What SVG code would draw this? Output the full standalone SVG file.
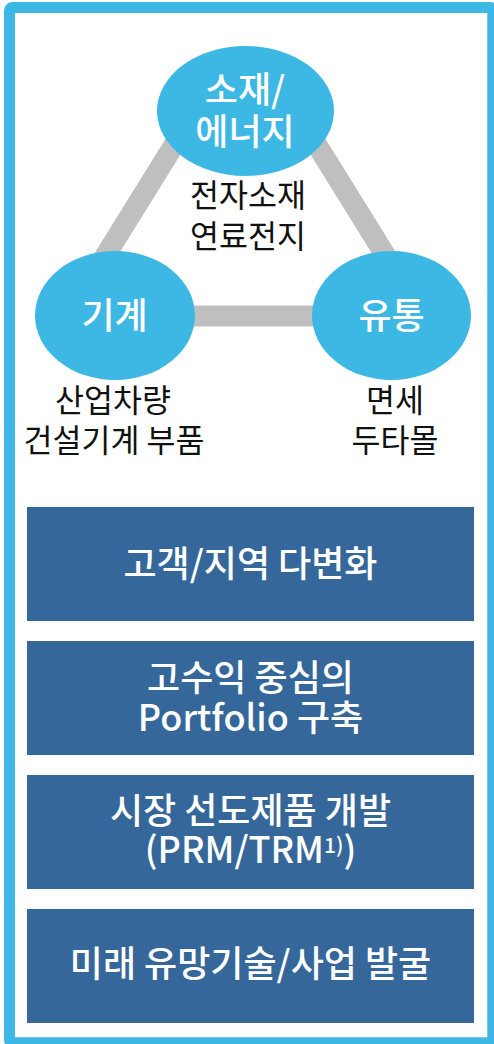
<svg xmlns="http://www.w3.org/2000/svg" width="494" height="1044" viewBox="0 0 494 1044">
  <style>
    .frame { fill: #ffffff; stroke: #3db8e4; stroke-width: 11; }
    .link { stroke: #bfbfbf; stroke-width: 21; stroke-linecap: butt; fill: none; }
    .hub { fill: #3db8e4; }
    .hub-label { font-family: "Noto Sans CJK KR", "Noto Sans", sans-serif; font-size: 36px; font-weight: 500; fill: #ffffff; text-anchor: middle; }
    .note { font-family: "Noto Sans CJK KR", "Noto Sans", sans-serif; font-size: 31.5px; fill: #111111; text-anchor: middle; }
    .box { fill: #35679a; }
    .box-label { font-family: "Noto Sans CJK KR", "Noto Sans", sans-serif; font-size: 36px; font-weight: 500; fill: #ffffff; text-anchor: middle; }
  </style>

  <!-- outer frame -->
  <rect class="frame" x="9.5" y="7.5" width="483.3" height="1035.3" rx="3"/>

  <!-- triangle links between the three business areas -->
  <g id="connectors">
    <line class="link" x1="189.6" y1="120" x2="84" y2="290"/>
    <line class="link" x1="301.4" y1="120" x2="407" y2="290"/>
    <line class="link" x1="115" y1="316" x2="391" y2="316"/>
  </g>

  <g id="node-materials">
    <ellipse class="hub" cx="245.5" cy="111" rx="88.5" ry="65"/>
    <text class="hub-label" x="245" y="103">소재/</text>
    <text class="hub-label" x="245" y="145">에너지</text>
    <text class="note" x="248" y="207">전자소재</text>
    <text class="note" x="248" y="248">연료전지</text>
  </g>

  <g id="node-machinery">
    <ellipse class="hub" cx="115" cy="315.5" rx="80" ry="64.5"/>
    <text class="hub-label" x="114.5" y="329">기계</text>
    <text class="note" x="113" y="412">산업차량</text>
    <text class="note" x="114" y="452">건설기계 부품</text>
  </g>

  <g id="node-retail">
    <ellipse class="hub" cx="391.5" cy="315.5" rx="79.5" ry="64.5"/>
    <text class="hub-label" x="391.5" y="329">유통</text>
    <text class="note" x="395" y="412">면세</text>
    <text class="note" x="395" y="452">두타몰</text>
  </g>

  <!-- strategy boxes -->
  <g id="box-diversify">
    <rect class="box" x="27" y="507" width="447" height="114"/>
    <text class="box-label" x="250.5" y="577">고객/지역 다변화</text>
  </g>

  <g id="box-portfolio">
    <rect class="box" x="27" y="641" width="447" height="114"/>
    <text class="box-label" x="250.5" y="691">고수익 중심의</text>
    <text class="box-label" x="250.5" y="731">Portfolio 구축</text>
  </g>

  <g id="box-products">
    <rect class="box" x="27" y="775" width="447" height="114"/>
    <text class="box-label" x="250.5" y="824">시장 선도제품 개발</text>
    <text class="box-label" x="250.5" y="863">(PRM/TRM<tspan font-size="21" dy="-10">1)</tspan><tspan dy="10">)</tspan></text>
  </g>

  <g id="box-future">
    <rect class="box" x="27" y="909" width="447" height="114"/>
    <text class="box-label" x="250.5" y="977">미래 유망기술/사업 발굴</text>
  </g>
</svg>
